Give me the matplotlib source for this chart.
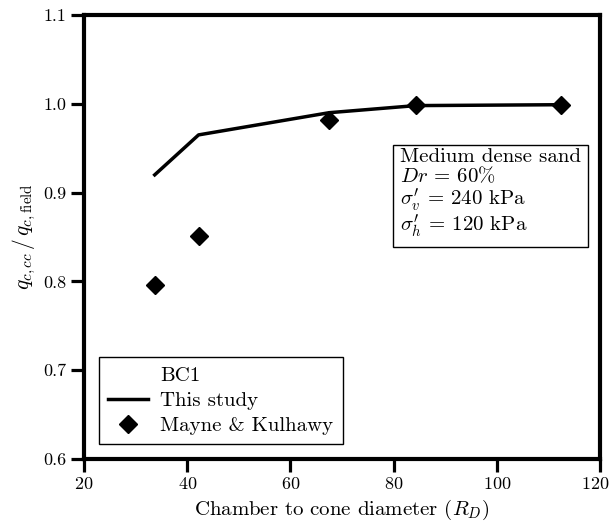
import matplotlib
matplotlib.use("Agg")
import matplotlib.pyplot as plt
from matplotlib.transforms import ScaledTranslation

plt.rcParams['font.family'] = 'serif'
plt.rcParams['font.serif'] = ['cmr10']
plt.rcParams['mathtext.fontset'] = 'cm'
plt.rcParams['axes.formatter.use_mathtext'] = True

# chamber to cone diameter ratio
rd_model = [33.7, 42.2, 67.5, 84.3, 112.5]
q_model = [0.920, 0.965, 0.990, 0.998, 0.999]

rd_mk = [33.7, 42.2, 67.5, 84.3, 112.5]
q_mk = [0.796, 0.851, 0.982, 0.999, 0.999]

x_ticks = [20, 40, 60, 80, 100, 120]
y_ticks = [0.6, 0.7, 0.8, 0.9, 1.0, 1.1]

fig = plt.figure(figsize=(6.11, 5.29), dpi=100)
ax = fig.add_axes([0.1375, 0.1323, 0.8445, 0.8393])

# empty entry so "BC1" lines up with the other legend labels
ax.plot([], [], color='none', label='BC1')
ax.plot(rd_model, q_model, color='black', linewidth=2.5, label='This study')
ax.plot(rd_mk, q_mk, linestyle='none', marker='D', markersize=9, color='black',
        label='Mayne & Kulhawy')

ax.set_xlim(20, 120)
ax.set_ylim(0.6, 1.1)
ax.set_xticks(x_ticks)
ax.set_yticks(y_ticks)
ax.set_yticklabels([f'{v:.1f}' for v in y_ticks])
ax.tick_params(direction='out', length=9.5, width=2.3, labelsize=13, pad=3)
for s in ax.spines.values():
    s.set_linewidth(3)

# last x label sits a bit left so it stays inside the figure
lbl = ax.get_xticklabels()[-1]
lbl.set_transform(lbl.get_transform() + ScaledTranslation(-5 / 100, 0, fig.dpi_scale_trans))

ax.set_xlabel(r'Chamber to cone diameter ($R_D$)', fontsize=15)
ax.set_ylabel(r'$q_{c,cc}\,/\,q_{c,\mathrm{field}}$', fontsize=15.5)

leg = ax.legend(loc='lower left', fontsize=15,
                fancybox=False, edgecolor='black', framealpha=1,
                handlelength=1.9, handletextpad=0.6, borderaxespad=0.7,
                labelspacing=0.3, borderpad=0.45)
leg.get_frame().set_linewidth(1.0)

ax.text(0.612, 0.700,
        'Medium dense sand\n' + r'$Dr$ = 60%' + '\n' + r"$\sigma^{\prime}_{v}$ = 240 kPa" + '\n'
        + r"$\sigma^{\prime}_{h}$ = 120 kPa",
        transform=ax.transAxes, fontsize=15, va='top', ha='left', linespacing=0.98,
        bbox=dict(boxstyle='square,pad=0.35', facecolor='white', edgecolor='black',
                  linewidth=1.0))

fig.savefig('out.png', dpi=100)
